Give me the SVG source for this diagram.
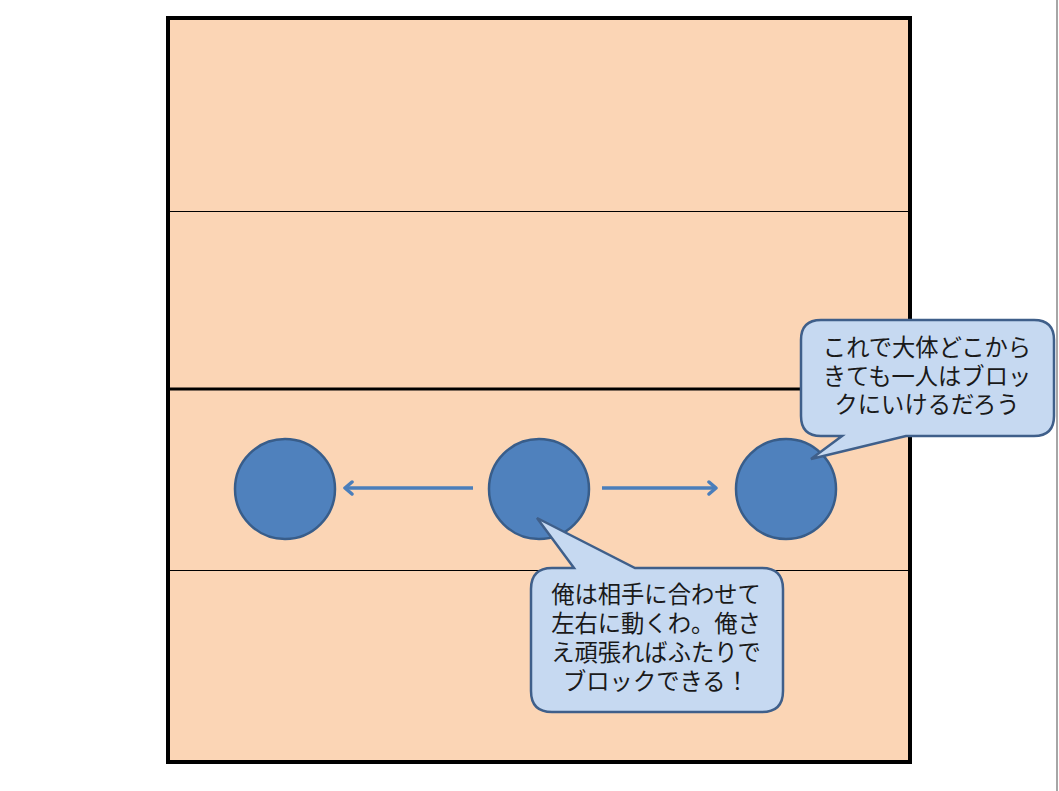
<svg xmlns="http://www.w3.org/2000/svg" width="1059" height="791" viewBox="0 0 1059 791">
<style>
.court{fill:#FBD5B5;stroke:#000;stroke-width:4}
.thin{stroke:#000;stroke-width:1}
.thick{stroke:#000;stroke-width:3}
.player{fill:#4F81BD;stroke:#385D8A;stroke-width:2.5}
.callout{fill:#C6D9F1;stroke:#3F5F8A;stroke-width:2.5;stroke-linejoin:miter}
.txt{font-family:"Noto Sans CJK JP","Noto Sans CJK SC",sans-serif;font-size:23.3px;fill:#1a1a1a;text-anchor:middle}
.arrow{stroke:#4A7EBB;stroke-width:3.5;fill:none}
</style>
<defs>
<marker id="ah" viewBox="0 0 16 16" refX="13" refY="8" markerWidth="16" markerHeight="16" orient="auto" markerUnits="userSpaceOnUse">
<path d="M6,2 L13,8 L6,14" fill="none" stroke="#4A7EBB" stroke-width="3.5" stroke-linecap="round" stroke-linejoin="round"/>
</marker>
</defs>
<rect width="1059" height="791" fill="#fff"/>
<line x1="1057" y1="0" x2="1057" y2="791" stroke="#A6A6A6" stroke-width="2"/>
<g id="court">
<rect class="court" x="168" y="18" width="742" height="744"/>
<line class="thin" x1="168" y1="211.5" x2="910" y2="211.5"/>
<line class="thick" x1="168" y1="389" x2="910" y2="389"/>
<line class="thin" x1="168" y1="570.5" x2="910" y2="570.5"/>
</g>
<g id="connectors">
<line class="arrow" x1="473" y1="488" x2="345" y2="488" marker-end="url(#ah)"/>
<line class="arrow" x1="602" y1="488" x2="716" y2="488" marker-end="url(#ah)"/>
</g>
<g id="player-left"><circle class="player" cx="285" cy="489" r="50"/></g>
<g id="player-center"><circle class="player" cx="539" cy="489" r="50"/></g>
<g id="player-right"><circle class="player" cx="786" cy="489" r="50"/></g>
<g id="callout-right">
<path class="callout" d="M821,320 H1034 Q1054,320 1054,340 V416 Q1054,436 1034,436 H906 L811,459 L842,436 H821 Q801,436 801,416 V340 Q801,320 821,320 Z"/>
<text class="txt" x="927" y="356">これで大体どこから</text>
<text class="txt" x="927" y="385">きても一人はブロッ</text>
<text class="txt" x="927" y="413">クにいけるだろう</text>
</g>
<g id="callout-center">
<path class="callout" d="M552,568 H574 L537,518 L635,568 H762 Q783,568 783,589 V691 Q783,712 762,712 H552 Q531,712 531,691 V589 Q531,568 552,568 Z"/>
<text class="txt" x="656" y="603">俺は相手に合わせて</text>
<text class="txt" x="656" y="632">左右に動くわ。俺さ</text>
<text class="txt" x="656" y="661">え頑張ればふたりで</text>
<text class="txt" x="656" y="690">ブロックできる！</text>
</g>
</svg>
